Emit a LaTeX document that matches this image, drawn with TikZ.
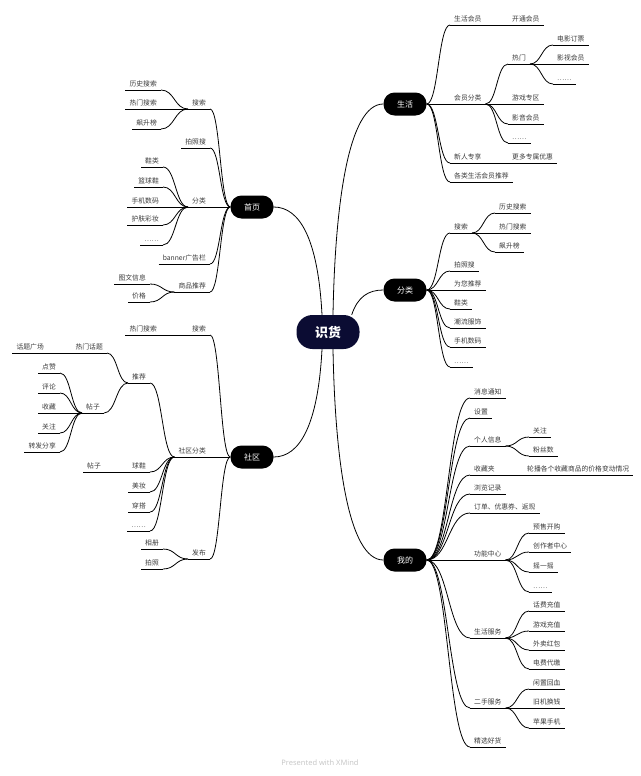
\documentclass[tikz,border=0pt]{standalone}
\usepackage{fontspec}
\setmainfont{Noto Sans CJK SC}
\newfontfamily\wmfont{Noto Sans}
\usetikzlibrary{calc}
\definecolor{navy}{HTML}{0B0C33}
\definecolor{txt}{HTML}{3A3A3A}
\tikzset{
    root/.style = {rectangle, rounded corners=16pt, fill=navy, text=white, minimum width=63pt,
                        minimum height=34pt, font=\fontsize{13}{13}\selectfont\bfseries},
    main/.style = {rectangle, rounded corners=11pt, fill=black, text=white, minimum width=43pt,
                        minimum height=23pt, font=\fontsize{8}{8}\selectfont},
    topic/.style = {inner xsep=4pt, inner ysep=2.5pt, text=txt, text height=5.6pt, text depth=0.8pt,
                        font=\fontsize{6.8}{7}\selectfont,
                        append after command={(\tikzlastnode.south west) edge[draw, line width=0.8pt] (\tikzlastnode.south east)}},
    rtopic/.style = {topic, anchor=south west},
    ltopic/.style = {topic, anchor=south east},
    link/.style = {line width=0.8pt, to path={let \p1=(\tikztostart), \p2=(\tikztotarget),
                        \n1={0.5*(\x2-\x1)}, \n2={-0.5*(\x2-\x1)} in
                        .. controls ([xshift=\n1]\tikztostart) and ([xshift=\n2]\tikztotarget) .. (\tikztotarget)}}
}

\begin{document}
\begin{tikzpicture}[x=1pt, y=-1pt]
		\useasboundingbox (0,0) rectangle (640,776);
		\node (shihuo) [root] at (328,332) {识货};
		% main topics
		\node (life) [main] at (405,104) {生活};
		\node (cat) [main] at (405,290) {分类};
		\node (mine) [main] at (405,560) {我的};
		\node (home) [main] at (252,207) {首页};
		\node (comm) [main] at (252,457) {社区};
		\draw [line width=0.8pt] ([xshift=-6]shihuo.north) .. controls +(-4,-76) and +(26,0) .. (home.east);
		\draw [line width=0.8pt] ([xshift=5]shihuo.north) .. controls +(2,-110) and +(-35,0) .. (life.west);
		\draw [line width=0.8pt] ([xshift=-8]shihuo.north east) .. controls +(6,-18) and +(-15,0) .. (cat.west);
		\draw [line width=0.8pt] ([xshift=5]shihuo.south) .. controls +(2,110) and +(-35,0) .. (mine.west);
		\draw [line width=0.8pt] ([xshift=-6]shihuo.south) .. controls +(-4,76) and +(26,0) .. (comm.east);

		% 生活
		\node (shhy) [rtopic] at (450,25) {生活会员};
		\node (kthy) [rtopic] at (508,25) {开通会员};
		\node (hyfl) [rtopic] at (450,104) {会员分类};
		\node (rm) [rtopic] at (508,64) {热门};
		\node (dydp) [rtopic] at (553,45) {电影订票};
		\node (yshy) [rtopic] at (553,64) {影视会员};
		\node (rmdd) [rtopic] at (553,84) {……};
		\node (yxzq) [rtopic] at (508,104) {游戏专区};
		\node (yyhy) [rtopic] at (508,124) {影音会员};
		\node (hydd) [rtopic] at (508,143) {……};
		\node (xrzx) [rtopic] at (450,163) {新人专享};
		\node (gdyh) [rtopic] at (508,163) {更多专属优惠};
		\node (gltj) [rtopic] at (450,182) {各类生活会员推荐};
		\draw [link] (life.east) to (shhy.south west);
		\draw [link] (life.east) to (hyfl.south west);
		\draw [link] (life.east) to (xrzx.south west);
		\draw [link] (life.east) to (gltj.south west);
		\draw [link] (shhy.south east) to (kthy.south west);
		\draw [link] (hyfl.south east) to (rm.south west);
		\draw [link] (hyfl.south east) to (yxzq.south west);
		\draw [link] (hyfl.south east) to (yyhy.south west);
		\draw [link] (hyfl.south east) to (hydd.south west);
		\draw [link] (rm.south east) to (dydp.south west);
		\draw [link] (rm.south east) to (yshy.south west);
		\draw [link] (rm.south east) to (rmdd.south west);
		\draw [link] (xrzx.south east) to (gdyh.south west);

		% 分类
		\node (fss) [rtopic] at (450,233) {搜索};
		\node (flss) [rtopic] at (495,213) {历史搜索};
		\node (frss) [rtopic] at (495,233) {热门搜索};
		\node (fbsb) [rtopic] at (495,252) {飙升榜};
		\node (fpzs) [rtopic] at (450,271) {拍照搜};
		\node (fwnt) [rtopic] at (450,290) {为您推荐};
		\node (fxl) [rtopic] at (450,309) {鞋类};
		\node (fclf) [rtopic] at (450,328) {潮流服饰};
		\node (fsjs) [rtopic] at (450,347) {手机数码};
		\node (fdd) [rtopic] at (450,367) {……};
		\draw [link] (cat.east) to (fss.south west);
		\draw [link] (cat.east) to (fpzs.south west);
		\draw [link] (cat.east) to (fwnt.south west);
		\draw [link] (cat.east) to (fxl.south west);
		\draw [link] (cat.east) to (fclf.south west);
		\draw [link] (cat.east) to (fsjs.south west);
		\draw [link] (cat.east) to (fdd.south west);
		\draw [link] (fss.south east) to (flss.south west);
		\draw [link] (fss.south east) to (frss.south west);
		\draw [link] (fss.south east) to (fbsb.south west);

		% 我的
		\node (xxtz) [rtopic] at (470,398) {消息通知};
		\node (sz) [rtopic] at (470,418) {设置};
		\node (grxx) [rtopic] at (470,446) {个人信息};
		\node (gz) [rtopic] at (529,437) {关注};
		\node (fsshu) [rtopic] at (529,456) {粉丝数};
		\node (scj) [rtopic] at (470,475) {收藏夹};
		\node (lbsp) [rtopic] at (523,475) {轮播各个收藏商品的价格变动情况};
		\node (lljl) [rtopic] at (470,494) {浏览记录};
		\node (ddfx) [rtopic] at (470,513) {订单、优惠券、返现};
		\node (gnzx) [rtopic] at (470,560) {功能中心};
		\node (ysk) [rtopic] at (529,533) {预售开购};
		\node (czzx) [rtopic] at (529,552) {创作者中心};
		\node (yyy) [rtopic] at (529,572) {摇一摇};
		\node (gndd) [rtopic] at (529,592) {……};
		\node (shfw) [rtopic] at (470,638) {生活服务};
		\node (hfcz) [rtopic] at (529,611) {话费充值};
		\node (yxcz) [rtopic] at (529,631) {游戏充值};
		\node (wmhb) [rtopic] at (529,650) {外卖红包};
		\node (dfdj) [rtopic] at (529,669) {电费代缴};
		\node (esfw) [rtopic] at (470,708) {二手服务};
		\node (xzhx) [rtopic] at (529,689) {闲置回血};
		\node (jjhq) [rtopic] at (529,708) {旧机换钱};
		\node (pgsj) [rtopic] at (529,728) {苹果手机};
		\node (jxhh) [rtopic] at (470,747) {精选好货};
		\draw [link] (mine.east) to (xxtz.south west);
		\draw [link] (mine.east) to (sz.south west);
		\draw [link] (mine.east) to (grxx.south west);
		\draw [link] (mine.east) to (scj.south west);
		\draw [link] (mine.east) to (lljl.south west);
		\draw [link] (mine.east) to (ddfx.south west);
		\draw [link] (mine.east) to (gnzx.south west);
		\draw [link] (mine.east) to (shfw.south west);
		\draw [link] (mine.east) to (esfw.south west);
		\draw [link] (mine.east) to (jxhh.south west);
		\draw [link] (grxx.south east) to (gz.south west);
		\draw [link] (grxx.south east) to (fsshu.south west);
		\draw [link] (scj.south east) to (lbsp.south west);
		\draw [link] (gnzx.south east) to (ysk.south west);
		\draw [link] (gnzx.south east) to (czzx.south west);
		\draw [link] (gnzx.south east) to (yyy.south west);
		\draw [link] (gnzx.south east) to (gndd.south west);
		\draw [link] (shfw.south east) to (hfcz.south west);
		\draw [link] (shfw.south east) to (yxcz.south west);
		\draw [link] (shfw.south east) to (wmhb.south west);
		\draw [link] (shfw.south east) to (dfdj.south west);
		\draw [link] (esfw.south east) to (xzhx.south west);
		\draw [link] (esfw.south east) to (jjhq.south west);
		\draw [link] (esfw.south east) to (pgsj.south west);

		% 首页
		\node (hss) [ltopic] at (210,109) {搜索};
		\node (hlss) [ltopic] at (161,90) {历史搜索};
		\node (hrss) [ltopic] at (161,109) {热门搜索};
		\node (hbsb) [ltopic] at (161,129) {飙升榜};
		\node (hpzs) [ltopic] at (210,148) {拍照搜};
		\node (hfl) [ltopic] at (210,207) {分类};
		\node (hxl) [ltopic] at (163,167) {鞋类};
		\node (hlqx) [ltopic] at (163,187) {篮球鞋};
		\node (hsjs) [ltopic] at (163,207) {手机数码};
		\node (hhfc) [ltopic] at (163,225) {护肤彩妆};
		\node (hdd) [ltopic] at (163,245) {……};
		\node (hbanner) [ltopic] at (210,264) {banner广告栏};
		\node (hsptj) [ltopic] at (210,292) {商品推荐};
		\node (htwxx) [ltopic] at (150,284) {图文信息};
		\node (hjg) [ltopic] at (150,302) {价格};
		\draw [link] (home.west) to (hss.south east);
		\draw [link] (home.west) to (hpzs.south east);
		\draw [link] (home.west) to (hfl.south east);
		\draw [link] (home.west) to (hbanner.south east);
		\draw [link] (home.west) to (hsptj.south east);
		\draw [link] (hss.south west) to (hlss.south east);
		\draw [link] (hss.south west) to (hrss.south east);
		\draw [link] (hss.south west) to (hbsb.south east);
		\draw [link] (hfl.south west) to (hxl.south east);
		\draw [link] (hfl.south west) to (hlqx.south east);
		\draw [link] (hfl.south west) to (hsjs.south east);
		\draw [link] (hfl.south west) to (hhfc.south east);
		\draw [link] (hfl.south west) to (hdd.south east);
		\draw [link] (hsptj.south west) to (htwxx.south east);
		\draw [link] (hsptj.south west) to (hjg.south east);

		% 社区
		\node (css) [ltopic] at (210,335) {搜索};
		\node (crss) [ltopic] at (161,335) {热门搜索};
		\node (csqfl) [ltopic] at (210,457) {社区分类};
		\node (ctj) [ltopic] at (150,383) {推荐};
		\node (crmht) [ltopic] at (107,353) {热门话题};
		\node (chtgc) [ltopic] at (48,353) {话题广场};
		\node (ctz) [ltopic] at (104,413) {帖子};
		\node (cdz) [ltopic] at (60,373) {点赞};
		\node (cpl) [ltopic] at (60,393) {评论};
		\node (csc) [ltopic] at (60,413) {收藏};
		\node (cgz) [ltopic] at (60,433) {关注};
		\node (czf) [ltopic] at (60,452) {转发分享};
		\node (cqx) [ltopic] at (150,472) {球鞋};
		\node (cqxtz) [ltopic] at (105,472) {帖子};
		\node (cmz) [ltopic] at (150,492) {美妆};
		\node (ccd) [ltopic] at (150,512) {穿搭};
		\node (cdd) [ltopic] at (150,531) {……};
		\node (cfb) [ltopic] at (210,559) {发布};
		\node (cxc) [ltopic] at (163,549) {相册};
		\node (cpz) [ltopic] at (163,569) {拍照};
		\draw [link] (comm.west) to (css.south east);
		\draw [link] (comm.west) to (csqfl.south east);
		\draw [link] (comm.west) to (cfb.south east);
		\draw [link] (css.south west) to (crss.south east);
		\draw [link] (csqfl.south west) to (ctj.south east);
		\draw [link] (csqfl.south west) to (cqx.south east);
		\draw [link] (csqfl.south west) to (cmz.south east);
		\draw [link] (csqfl.south west) to (ccd.south east);
		\draw [link] (csqfl.south west) to (cdd.south east);
		\draw [link] (ctj.south west) to (crmht.south east);
		\draw [link] (ctj.south west) to (ctz.south east);
		\draw [link] (crmht.south west) to (chtgc.south east);
		\draw [link] (ctz.south west) to (cdz.south east);
		\draw [link] (ctz.south west) to (cpl.south east);
		\draw [link] (ctz.south west) to (csc.south east);
		\draw [link] (ctz.south west) to (cgz.south east);
		\draw [link] (ctz.south west) to (czf.south east);
		\draw [link] (cqx.south west) to (cqxtz.south east);
		\draw [link] (cfb.south west) to (cxc.south east);
		\draw [link] (cfb.south west) to (cpz.south east);

		\node (wm) at (320,763) {\wmfont\fontsize{7.5}{8}\selectfont\bfseries\color{black!22}Presented with XMind};
	\end{tikzpicture}
\end{document}
